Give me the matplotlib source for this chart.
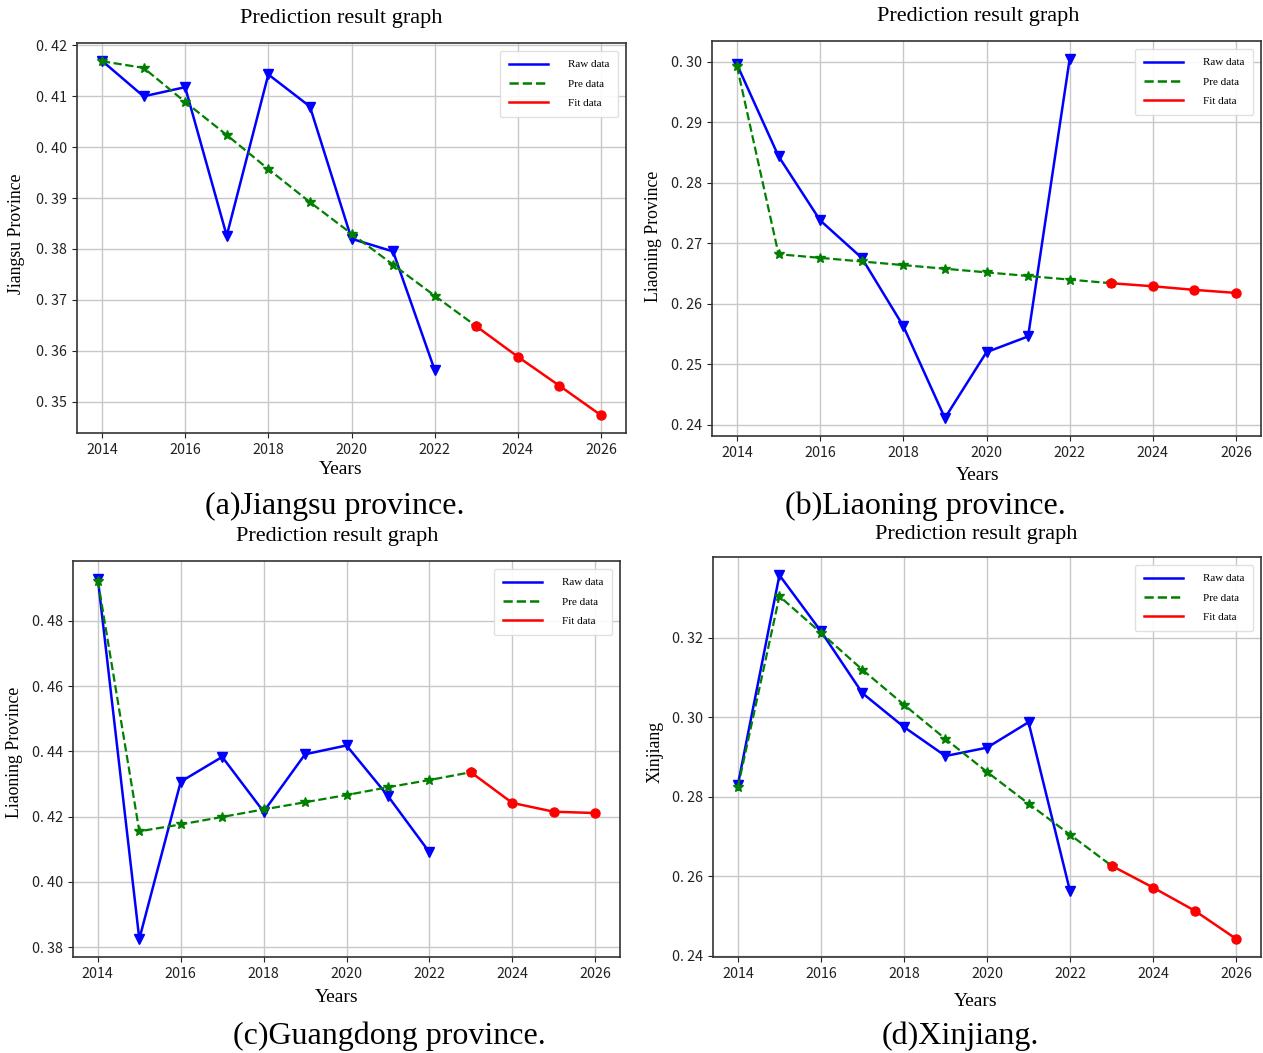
import matplotlib
matplotlib.use("Agg")
import matplotlib.pyplot as plt
from matplotlib.ticker import FuncFormatter
from matplotlib.lines import Line2D

W, H = 1263, 1053

years_raw = list(range(2014, 2023))
years_pre = list(range(2014, 2024))
years_fit = list(range(2023, 2027))

jiangsu_raw = [0.4170, 0.4100, 0.4118, 0.3826, 0.4143, 0.4080, 0.3820, 0.3795, 0.3562]
jiangsu_pre = [0.4169, 0.4156, 0.4089, 0.4024, 0.3957, 0.3892, 0.3830, 0.3769, 0.3708, 0.3648]
jiangsu_fit = [0.3648, 0.3588, 0.3531, 0.3473]

liaoning_raw = [0.2996, 0.2844, 0.2738, 0.2676, 0.2563, 0.2411, 0.2520, 0.2546, 0.3005]
liaoning_pre = [0.2993, 0.2682, 0.2676, 0.2670, 0.2664, 0.2658, 0.2652, 0.2646, 0.2640, 0.2634]
liaoning_fit = [0.2634, 0.2629, 0.2623, 0.2618]

guangdong_raw = [0.4928, 0.3825, 0.4307, 0.4383, 0.4215, 0.4391, 0.4418, 0.4263, 0.4091]
guangdong_pre = [0.4923, 0.4155, 0.4176, 0.4199, 0.4222, 0.4244, 0.4266, 0.4290, 0.4312, 0.4336]
guangdong_fit = [0.4336, 0.4242, 0.4215, 0.4211]

xinjiang_raw = [0.2831, 0.3358, 0.3217, 0.3061, 0.2976, 0.2903, 0.2924, 0.2988, 0.2563]
xinjiang_pre = [0.2825, 0.3305, 0.3213, 0.3120, 0.3032, 0.2946, 0.2863, 0.2783, 0.2705, 0.2627]
xinjiang_fit = [0.2627, 0.2572, 0.2514, 0.2443]

title_text = "Prediction result graph"
xlabel_text = "Years"
legend_labels = ["Raw data", "Pre data", "Fit data"]
x_ticks = [2014, 2016, 2018, 2020, 2022, 2024, 2026]
yticks_a = [0.35, 0.36, 0.37, 0.38, 0.39, 0.40, 0.41, 0.42]
yticks_b = [0.24, 0.25, 0.26, 0.27, 0.28, 0.29, 0.30]
yticks_c = [0.38, 0.40, 0.42, 0.44, 0.46, 0.48]
yticks_d = [0.24, 0.26, 0.28, 0.30, 0.32]

serif = ["Liberation Serif", "DejaVu Serif"]
tickfont = ["Noto Sans CJK SC", "DejaVu Sans"]

panels = [
    dict(raw=jiangsu_raw, pre=jiangsu_pre, fit=jiangsu_fit, ylabel="Jiangsu Province",
         caption="(a)Jiangsu province.", yticks=yticks_a,
         box=(77, 43, 626, 433), title=(341, 19), ylab=(17, 234), xlab=(341, 470), cap=(335, 506)),
    dict(raw=liaoning_raw, pre=liaoning_pre, fit=liaoning_fit, ylabel="Liaoning Province",
         caption="(b)Liaoning province.", yticks=yticks_b,
         box=(712, 41, 1261, 436), title=(978, 17), ylab=(653, 236), xlab=(978, 476), cap=(925, 506)),
    dict(raw=guangdong_raw, pre=guangdong_pre, fit=guangdong_fit, ylabel="Liaoning Province",
         caption="(c)Guangdong province.", yticks=yticks_c,
         box=(73, 561, 620, 957), title=(337, 536), ylab=(15, 752), xlab=(337, 998), cap=(389, 1036)),
    dict(raw=xinjiang_raw, pre=xinjiang_pre, fit=xinjiang_fit, ylabel="Xinjiang",
         caption="(d)Xinjiang.", yticks=yticks_d,
         box=(713, 557, 1261, 957), title=(976, 534), ylab=(655, 752), xlab=(976, 1001), cap=(960, 1036)),
]

fig = plt.figure(figsize=(W / 100, H / 100), dpi=100)
fig.patch.set_facecolor("white")

fmt = FuncFormatter(lambda v, p: f"{v:.2f}".replace(".", ". "))

handles = [
    Line2D([], [], color="blue", linewidth=1.8),
    Line2D([], [], color="green", linestyle="--", linewidth=1.8),
    Line2D([], [], color="red", linewidth=1.8),
]

for p in panels:
    l, t, r, b = p["box"]
    ax = fig.add_axes([l / W, 1 - b / H, (r - l) / W, (b - t) / H])
    ax.grid(True, color="#c8c8c8", linewidth=1.0, zorder=0)
    ax.set_axisbelow(True)
    ax.plot(years_raw, p["raw"], color="blue", marker="v", markersize=7, linewidth=1.8, zorder=3)
    ax.plot(years_pre, p["pre"], color="green", linestyle="--", marker="*", markersize=7,
            linewidth=1.6, zorder=4)
    ax.plot(years_fit, p["fit"], color="red", marker="o", markersize=6.5, linewidth=1.8, zorder=5)
    ax.set_xticks(x_ticks)
    ax.set_yticks(p["yticks"])
    ax.yaxis.set_major_formatter(fmt)
    for lab in ax.get_xticklabels() + ax.get_yticklabels():
        lab.set_family(tickfont)
        lab.set_fontsize(10.3)
    ax.tick_params(colors="#222222", length=3.5, width=0.8)
    for s in ax.spines.values():
        s.set_color("#333333")
        s.set_linewidth(1.2)
    ax.legend(handles, legend_labels, loc="upper right", prop={"family": serif, "size": 8},
              handlelength=3.5, handletextpad=1.8, labelspacing=0.85,
              borderpad=0.8, framealpha=0.9, edgecolor="#dddddd", borderaxespad=0.7)
    fig.text(p["title"][0] / W, 1 - p["title"][1] / H, title_text, ha="center", va="center",
             family=serif, fontsize=16)
    fig.text(p["ylab"][0] / W, 1 - p["ylab"][1] / H, p["ylabel"], ha="center", va="center",
             rotation=90, family=serif, fontsize=12.8)
    fig.text(p["xlab"][0] / W, 1 - p["xlab"][1] / H, xlabel_text, ha="center", va="center",
             family=serif, fontsize=14)
    fig.text(p["cap"][0] / W, 1 - p["cap"][1] / H, p["caption"], ha="center", va="center",
             family=serif, fontsize=23)

fig.savefig("out.png", dpi=100)
